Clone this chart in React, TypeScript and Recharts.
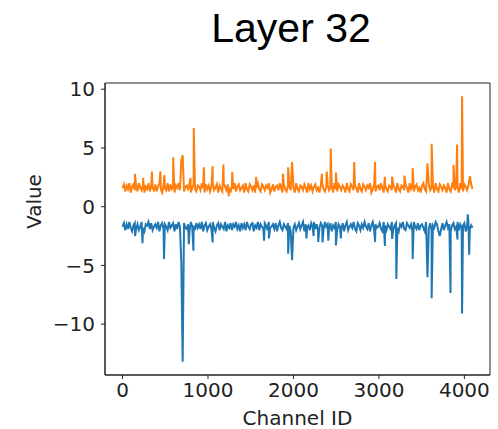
import React from "react";
import {
	LineChart,
	Line,
	XAxis,
	YAxis,
	ReferenceArea,
} from "recharts";

// baseline readings every 16 channels (0..4080) plus the last channel 4095
const STEP = 16;
const LAST_CHANNEL = 4095;

const orangeBase = [
	1.6, 1.9, 1.3, 1.8, 1.5, 2.0, 1.2, 1.7, 1.9, 1.4, 1.8, 1.3, 2.0, 1.6, 1.4,
	1.9, 1.2, 1.7, 1.5, 2.0, 1.3, 1.8, 1.6, 1.4, 1.9, 1.3, 1.7, 2.0, 1.5, 1.2,
	1.8, 1.6, 1.4, 2.0, 1.3, 1.9, 1.5, 1.7, 1.2, 1.8, 1.6, 2.0, 1.4, 1.5, 1.9,
	1.3, 1.7, 1.8, 1.4, 2.0, 1.2, 1.6, 1.9, 1.5, 1.3, 1.8, 1.7, 1.4, 2.0, 1.6,
	1.2, 1.9, 1.5, 1.8, 1.3, 1.7, 2.0, 1.4, 1.6, 1.9, 1.2, 1.8, 1.5, 1.3, 2.0,
	1.7, 1.4, 1.9, 1.6, 1.2, 1.8, 1.5, 2.0, 1.3, 1.7, 1.9, 1.4, 1.6, 1.8, 1.2,
	2.0, 1.5, 1.3, 1.9, 1.7, 1.4, 1.8, 1.2, 1.6, 2.0, 1.5, 1.3, 1.9, 1.7, 1.4,
	1.8, 1.6, 2.0, 1.2, 1.5, 1.9, 1.3, 1.7, 1.8, 1.4, 2.0, 1.6, 1.2, 1.9, 1.5,
	1.3, 1.8, 1.7, 1.4, 1.9, 1.6, 1.2, 2.0, 1.5, 1.3, 1.8, 1.7, 1.4, 1.9, 1.6,
	1.2, 2.0, 1.5, 1.8, 1.3, 1.7, 1.9, 1.4, 1.6, 1.2, 1.8, 2.0, 1.5, 1.3, 1.7,
	1.9, 1.4, 1.6, 1.8, 1.2, 2.0, 1.5, 1.3, 1.9, 1.7, 1.4, 1.8, 1.6, 1.2, 2.0,
	1.5, 1.3, 1.9, 1.7, 1.4, 1.8, 1.6, 1.2, 2.0, 1.5, 1.3, 1.9, 1.7, 1.4, 1.8,
	1.6, 2.0, 1.2, 1.5, 1.9, 1.3, 1.7, 1.8, 1.4, 2.0, 1.6, 1.2, 1.9, 1.5, 1.3,
	1.8, 1.7, 1.4, 1.9, 1.6, 1.2, 2.0, 1.5, 1.3, 1.8, 1.7, 1.4, 1.9, 1.6, 1.2,
	2.0, 1.5, 1.8, 1.3, 1.7, 1.9, 1.4, 1.6, 1.2, 1.8, 2.0, 1.5, 1.3, 1.7, 1.9,
	1.4, 1.6, 1.8, 1.2, 2.0, 1.5, 1.3, 1.9, 1.7, 1.4, 1.8, 1.6, 1.2, 2.0, 1.5,
	1.3, 1.9, 1.7, 1.4, 1.8, 1.6, 1.2, 2.0, 1.5, 1.3, 1.9, 1.7, 1.4, 1.8, 1.6,
	1.9, 1.5,
];

const blueBase = [
	-1.7, -1.4, -2.0, -1.5, -1.9, -1.3, -1.8, -2.1, -1.6, -1.4, -1.9, -1.5, -2.0, -1.7, -1.3,
	-1.8, -2.1, -1.5, -1.6, -1.3, -1.9, -1.4, -2.0, -1.7, -1.5, -1.8, -1.3, -2.1, -1.6, -1.4,
	-1.9, -1.5, -1.7, -2.0, -1.3, -1.8, -1.6, -1.4, -2.1, -1.5, -1.9, -1.3, -1.7, -2.0, -1.6,
	-1.4, -1.8, -1.9, -1.5, -2.1, -1.3, -1.7, -1.6, -2.0, -1.4, -1.8, -1.5, -1.9, -1.3, -2.1,
	-1.6, -1.4, -2.0, -1.7, -1.5, -1.9, -1.3, -1.8, -2.1, -1.6, -1.4, -2.0, -1.5, -1.7, -1.9,
	-1.3, -2.1, -1.6, -1.8, -1.4, -2.0, -1.5, -1.7, -1.3, -1.9, -1.6, -2.1, -1.4, -1.8, -1.5,
	-2.0, -1.3, -1.7, -1.9, -1.5, -1.4, -2.1, -1.6, -1.8, -1.3, -2.0, -1.5, -1.7, -1.9, -1.4,
	-1.6, -2.0, -1.3, -1.8, -1.7, -1.5, -1.9, -1.4, -2.1, -1.6, -1.3, -1.8, -2.0, -1.5, -1.7,
	-1.9, -1.4, -1.6, -2.1, -1.3, -1.8, -1.5, -2.0, -1.7, -1.4, -1.9, -1.6, -1.3, -2.1, -1.5,
	-1.8, -1.6, -2.0, -1.4, -1.7, -1.3, -1.9, -1.5, -2.1, -1.8, -1.4, -1.6, -2.0, -1.3, -1.7,
	-1.5, -1.9, -1.4, -2.1, -1.6, -1.8, -1.3, -2.0, -1.5, -1.7, -1.9, -1.4, -2.1, -1.6, -1.3,
	-2.0, -1.7, -1.5, -1.8, -1.3, -1.9, -2.1, -1.4, -1.6, -2.0, -1.5, -1.8, -1.3, -1.7, -1.9,
	-1.4, -2.1, -1.6, -1.3, -2.0, -1.5, -1.8, -1.7, -1.4, -1.9, -2.1, -1.3, -1.6, -2.0, -1.5,
	-1.7, -1.9, -1.3, -2.0, -1.6, -1.4, -1.8, -2.1, -1.5, -1.7, -1.3, -1.9, -2.0, -1.4, -1.6,
	-1.8, -1.5, -2.1, -1.3, -1.7, -1.9, -1.4, -2.0, -1.6, -1.5, -1.8, -2.1, -1.3, -1.7, -1.9,
	-1.4, -2.0, -1.6, -1.8, -1.3, -1.5, -2.1, -1.7, -1.9, -1.4, -2.0, -1.6, -1.3, -1.8, -1.5,
	-2.1, -1.6, -1.4, -1.9, -1.7, -1.3, -2.0, -1.5, -1.8, -1.6, -1.4, -2.1, -1.7, -1.3, -1.9,
	-1.6, -1.8,
];

// outlier channels [channel, value]
const orangeSpikes: [number, number][] = [
	[146, 2.8], [241, 2.45], [344, 3.0], [444, 3.0], [490, 2.7], [593, 4.2],
	[688, 3.95], [704, 4.4], [796, 2.45], [834, 6.7], [952, 3.35], [1055, 3.45],
	[1181, 3.6], [1243, 0.9], [1284, 2.95], [1564, 2.55], [1877, 2.8], [1938, 3.35],
	[1984, 3.8], [2333, 2.8], [2390, 3.0], [2436, 4.95], [2497, 2.9], [2711, 3.8],
	[2955, 3.8], [3070, 2.55], [3154, 2.55], [3299, 2.65], [3395, 3.3], [3568, 3.7],
	[3617, 5.35], [3873, 3.55], [3915, 5.3], [3973, 9.4], [4064, 2.6],
];

const blueSpikes: [number, number][] = [
	[146, -2.5], [234, -3.1], [486, -4.45], [688, -4.75], [704, -13.2], [776, -3.2],
	[830, -3.75], [1055, -3.05], [1656, -2.9], [1713, -2.7], [1938, -4.0], [1984, -4.55],
	[2152, -2.7], [2236, -2.5], [2290, -3.0], [2340, -3.05], [2408, -2.9], [2497, -3.3],
	[2555, -2.7], [2955, -3.0], [3070, -3.35], [3154, -2.75], [3204, -6.15], [3395, -4.45],
	[3568, -6.0], [3617, -7.8], [3712, -2.5], [3838, -7.35], [3919, -2.8], [3973, -9.1],
	[4040, -0.65], [4056, -4.1],
];

const xTicks = [0, 1000, 2000, 3000, 4000];
const yTicks = [-10, -5, 0, 5, 10];
const X_DOMAIN: [number, number] = [-204.75, 4299.75];
const Y_DOMAIN: [number, number] = [-14.33, 10.53];

const buildSeries = (base: number[], spikes: [number, number][]) => {
	const spikeCh = new Set(spikes.map(([ch]) => ch));
	const pts = base
		.map((v, i) => ({
			ch: i === base.length - 1 ? LAST_CHANNEL : i * STEP,
			v,
		}))
		.filter((p) => !spikeCh.has(p.ch));
	spikes.forEach(([ch, v]) => pts.push({ ch, v }));
	return pts.sort((a, b) => a.ch - b.ch);
};

const orangeSeries = buildSeries(orangeBase, orangeSpikes);
const blueSeries = buildSeries(blueBase, blueSpikes);

const FONT = "DejaVu Sans";
const AXIS = "#222";

const fmt = (v: number) => (v < 0 ? `\u2212${Math.abs(v)}` : `${v}`);

export default function App() {
	return (
		<div style={{ position: "absolute", left: 0, top: 0, width: 498, height: 429, background: "#fff" }}>
			<div
				style={{
					position: "absolute",
					left: 0,
					width: 582,
					top: 4,
					textAlign: "center",
					fontFamily: "Liberation Sans, Arial, sans-serif",
					fontSize: 41,
					lineHeight: "48px",
					color: "#000",
				}}>
				Layer 32
			</div>
			<LineChart
				width={498}
				height={429}
				margin={{ top: 83, right: 8, left: 0, bottom: 0 }}
				style={{ fontFamily: FONT }}>
				<XAxis
					dataKey="ch"
					type="number"
					domain={X_DOMAIN}
					ticks={xTicks}
					allowDataOverflow
					height={54}
					tickSize={4}
					tickMargin={4}
					tick={{ fill: "#222", fontSize: 20, fontFamily: FONT }}
					stroke={AXIS}
					label={{ value: "Channel ID", position: "insideBottom", offset: 4, fill: "#222", fontSize: 20, fontFamily: FONT }}
				/>
				<YAxis
					type="number"
					domain={Y_DOMAIN}
					ticks={yTicks}
					allowDataOverflow
					width={105}
					tickSize={4}
					tickMargin={6}
					tickFormatter={fmt}
					tick={{ fill: "#222", fontSize: 20, fontFamily: FONT }}
					stroke={AXIS}
					label={{ value: "Value", angle: -90, position: "insideLeft", offset: 34, fill: "#222", fontSize: 20, fontFamily: FONT }}
				/>
				<Line
					data={blueSeries}
					dataKey="v"
					stroke="#1f77b4"
					strokeWidth={2}
					dot={false}
					isAnimationActive={false}
				/>
				<Line
					data={orangeSeries}
					dataKey="v"
					stroke="#ff7f0e"
					strokeWidth={2}
					dot={false}
					isAnimationActive={false}
				/>
				<ReferenceArea
					x1={X_DOMAIN[0]}
					x2={X_DOMAIN[1]}
					y1={Y_DOMAIN[0]}
					y2={Y_DOMAIN[1]}
					fill="none"
					stroke={AXIS}
					strokeWidth={1}
					ifOverflow="visible"
				/>
			</LineChart>
		</div>
	);
}
